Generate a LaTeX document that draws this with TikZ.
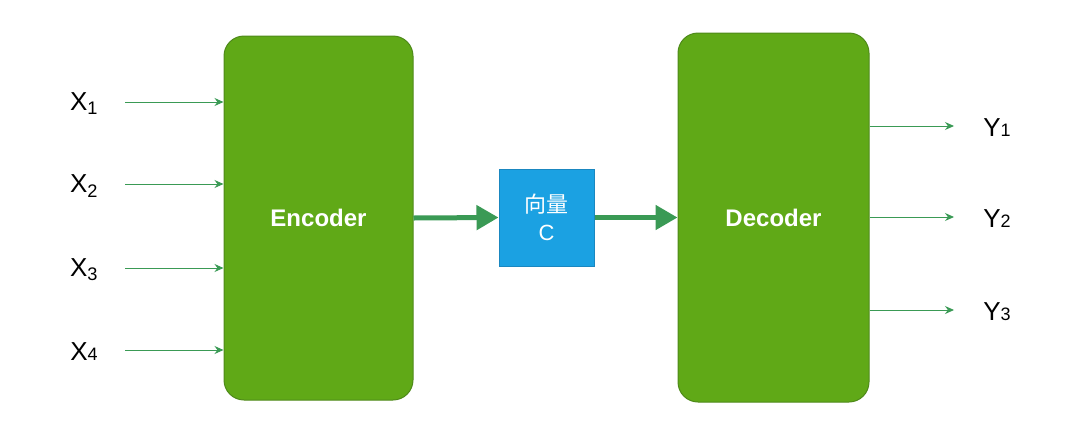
\documentclass[tikz,border=0pt]{standalone}
\usepackage{fontspec}
\setmainfont{Liberation Sans}
\newfontfamily\cjk{Noto Sans CJK SC}
\usetikzlibrary{arrows.meta}
\definecolor{gfill}{HTML}{60A917}
\definecolor{gline}{HTML}{4E8A1A}
\definecolor{bfill}{HTML}{1BA1E2}
\definecolor{bline}{HTML}{1A87C0}
\definecolor{arr}{HTML}{3A9A55}
\begin{document}
\begin{tikzpicture}[x=1pt,y=-1pt,
 blk/.style={draw=gline,fill=gfill,rounded corners=20pt,line width=1pt},
 thin/.style={draw=arr,line width=1pt,-{Stealth[length=9pt,width=8pt]}},
 thick/.style={draw=arr,line width=5pt,-{Triangle[length=22pt,width=24pt]}},
 lbl/.style={font=\fontsize{26}{30}\selectfont},
 wt/.style={text=white,font=\bfseries\fontsize{24}{28}\selectfont}]
\useasboundingbox (0,0) rectangle (1080,440);
\node[blk,minimum width=189pt,minimum height=364pt] (enc) at (318.5,218) {};
\node[wt] (enct) at (enc.center) {Encoder};
\node[blk,minimum width=191pt,minimum height=369pt] (dec) at (773.5,217.5) {};
\node[wt] (dect) at (dec.center) {Decoder};
\node[draw=bline,fill=bfill,line width=1pt,minimum width=95pt,minimum height=97pt,align=center,text=white,font=\fontsize{22}{28}\selectfont] (c) at (546.5,217.5) {{\cjk 向量}\\C};
\draw[thick] (enc.east) -- (c.west);
\draw[thick] (c.east) -- (dec.west);
\foreach \i/\y/\t in {1/104/X\textsubscript{1},2/186/X\textsubscript{2},3/270/X\textsubscript{3},4/352/X{\fontsize{18}{18}\selectfont 4}}{
  \node[lbl] (x\i) at (84,\y) {\t};
  \coordinate (xs\i) at (125,\y-2);
  \coordinate (xe\i) at (enc.west|-xs\i);
  \draw[thin] (xs\i) -- (xe\i);
}
\foreach \i/\y in {1/126,2/217,3/310}{
  \node[lbl] (y\i) at (997,\y+2) {Y{\fontsize{18}{18}\selectfont\i}};
  \coordinate (ys\i) at (dec.east|-0,\y);
  \coordinate (ye\i) at (954,\y);
  \draw[thin] (ys\i) -- (ye\i);
}
\end{tikzpicture}
\end{document}
